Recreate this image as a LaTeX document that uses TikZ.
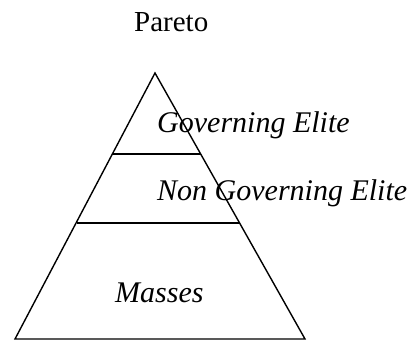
\documentclass[tikz,border=0pt]{standalone}
\usepackage{fontspec}
\setmainfont{Liberation Serif}
\begin{document}
\begin{tikzpicture}[x=1pt,y=1pt,
  lbl/.style={anchor=base west,inner sep=0pt,font=\fontsize{30}{35}\selectfont\itshape},
  edge/.style={line width=1.4pt,line join=miter}]
\useasboundingbox (0,0) rectangle (414,341);
\coordinate (apex) at (155,268);
\coordinate (bl) at (15,2);
\coordinate (br) at (305,2);
\coordinate (l1a) at (112.5,187);
\coordinate (l1b) at (201,187);
\coordinate (l2a) at (76.5,118);
\coordinate (l2b) at (240,118);
\draw[edge] (apex) -- (bl) -- (br) -- cycle;
\draw[edge] (l1a) -- (l1b);
\draw[edge] (l2a) -- (l2b);
\node[lbl,font=\fontsize{29}{34}\selectfont] (title) at (134,310) {Pareto};
\node[lbl] (gov) at (157,209) {Governing Elite};
\node[lbl] (ngov) at (157,141) {Non Governing Elite};
\node[lbl] (mass) at (115,39) {Masses};
\end{tikzpicture}
\end{document}
